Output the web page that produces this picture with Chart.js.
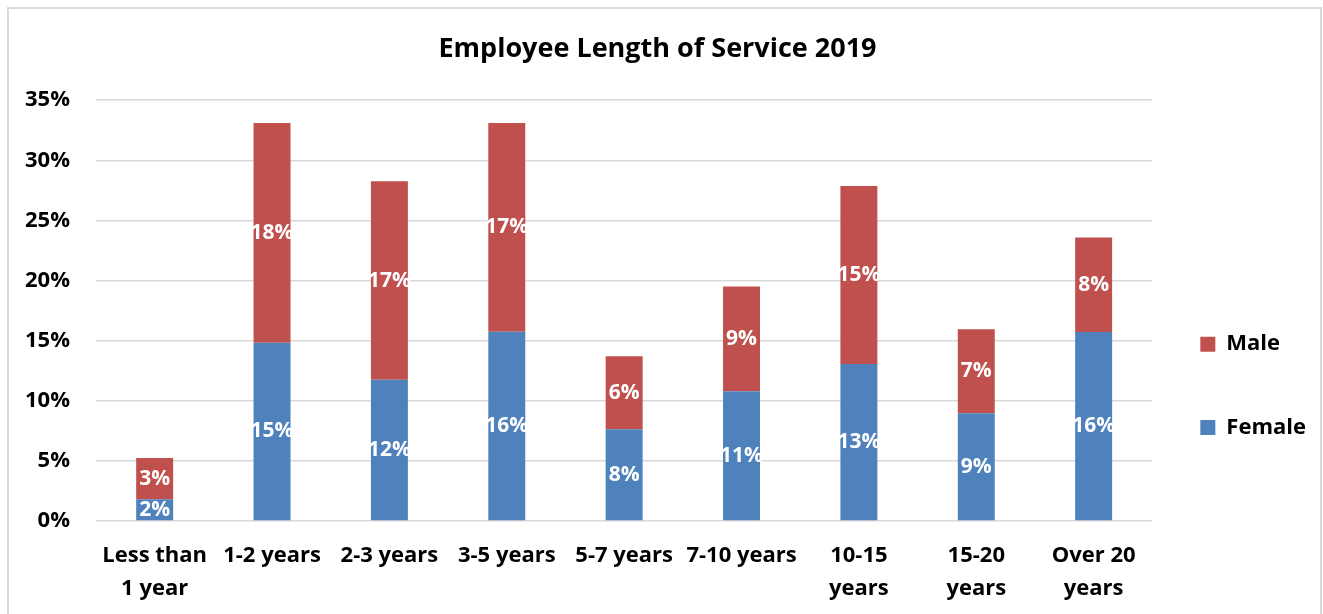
<!DOCTYPE html>
<html>
<head>
<meta charset="utf-8">
<script src="https://cdn.jsdelivr.net/npm/chart.js@4/dist/chart.umd.min.js"></script>
<style>
  html, body { margin: 0; padding: 0; background: #fff; overflow: hidden; }
  #box {
    position: absolute; left: 7px; top: 7px; width: 1311px; height: 634px;
    border: 2px solid #d9d9d9; border-bottom: none;
  }
  canvas { display: block; }
</style>
</head>
<body>
<div id="box"><canvas id="chart" width="1311" height="634"></canvas></div>
<script>
const categories = [
  ['Less than', '1 year'], '1-2 years', '2-3 years', '3-5 years', '5-7 years',
  '7-10 years', ['10-15', 'years'], ['15-20', 'years'], ['Over 20', 'years'],
];
const female = [1.8, 14.83, 11.75, 15.75, 7.64, 10.8, 13.06, 8.97, 15.72];
const male = [3.45, 18.27, 16.5, 17.35, 6.06, 8.7, 14.8, 6.97, 7.86];
const yTicks = [0, 5, 10, 15, 20, 25, 30, 35];

const FONT = '"Open Sans", "Liberation Sans", sans-serif';

// подписи значений по центру каждого сегмента
const segmentLabels = {
  id: 'segmentLabels',
  afterDatasetsDraw(chart) {
    const { ctx } = chart;
    ctx.save();
    ctx.fillStyle = '#fff';
    ctx.font = 'bold 21px ' + FONT;
    ctx.textAlign = 'center';
    ctx.textBaseline = 'middle';
    chart.data.datasets.forEach((ds, i) => {
      const meta = chart.getDatasetMeta(i);
      meta.data.forEach((bar, j) => {
        const { x, y, base } = bar.getProps(['x', 'y', 'base'], true);
        ctx.fillText(Math.round(ds.data[j]) + '%', x, (y + base) / 2);
      });
    });
    ctx.restore();
  },
};

const config = {
  type: 'bar',
  data: {
    labels: categories,
    datasets: [
      {
        label: 'Female',
        data: female,
        backgroundColor: '#4F81BD',
        categoryPercentage: 1,
        barPercentage: 0.315,
      },
      {
        label: 'Male',
        data: male,
        backgroundColor: '#C0504D',
        categoryPercentage: 1,
        barPercentage: 0.315,
      },
    ],
  },
  options: {
    responsive: false,
    animation: false,
    layout: {
      padding: { left: -10, right: 4, top: 0, bottom: 20 },
    },
    plugins: {
      tooltip: { enabled: false },
      title: {
        display: true,
        text: 'Employee Length of Service 2019',
        color: '#000',
        font: { family: FONT, size: 27, weight: 'bold', lineHeight: 1.2 },
        padding: { top: 24.5, bottom: 34.3 },
      },
      legend: {
        position: 'right',
        align: 'start',
        fullSize: false,
        reverse: true,
        // пустой заголовок только сдвигает пункты легенды вниз
        title: {
          display: true,
          text: '',
          font: { size: 10, lineHeight: 1 },
          padding: { top: 175, bottom: 0 },
        },
        labels: {
          color: '#000',
          boxWidth: 15,
          boxHeight: 15,
          padding: 48,
          font: { family: FONT, size: 22, weight: 'bold', lineHeight: 1.6 },
          generateLabels: (chart) =>
            Chart.defaults.plugins.legend.labels
              .generateLabels(chart)
              .map((item) => ({ ...item, text: [item.text] })),
        },
      },
    },
    scales: {
      x: {
        stacked: true,
        grid: { display: false, drawTicks: false },
        border: { display: false },
        ticks: {
          color: '#000',
          padding: 18,
          maxRotation: 0,
          autoSkip: false,
          font: { family: FONT, size: 22, weight: 'bold', lineHeight: 1.5 },
        },
      },
      y: {
        stacked: true,
        min: 0,
        max: 35,
        afterBuildTicks: (scale) => {
          scale.ticks = yTicks.map((v) => ({ value: v }));
        },
        grid: { color: '#d9d9d9', lineWidth: 1.5, drawTicks: false },
        border: { display: false },
        ticks: {
          color: '#000',
          padding: 26,
          font: { family: FONT, size: 22, weight: 'bold' },
          callback: (v) => v + '%',
        },
      },
    },
  },
  plugins: [segmentLabels],
};

new Chart(document.getElementById('chart').getContext('2d'), config);
</script>
</body>
</html>
